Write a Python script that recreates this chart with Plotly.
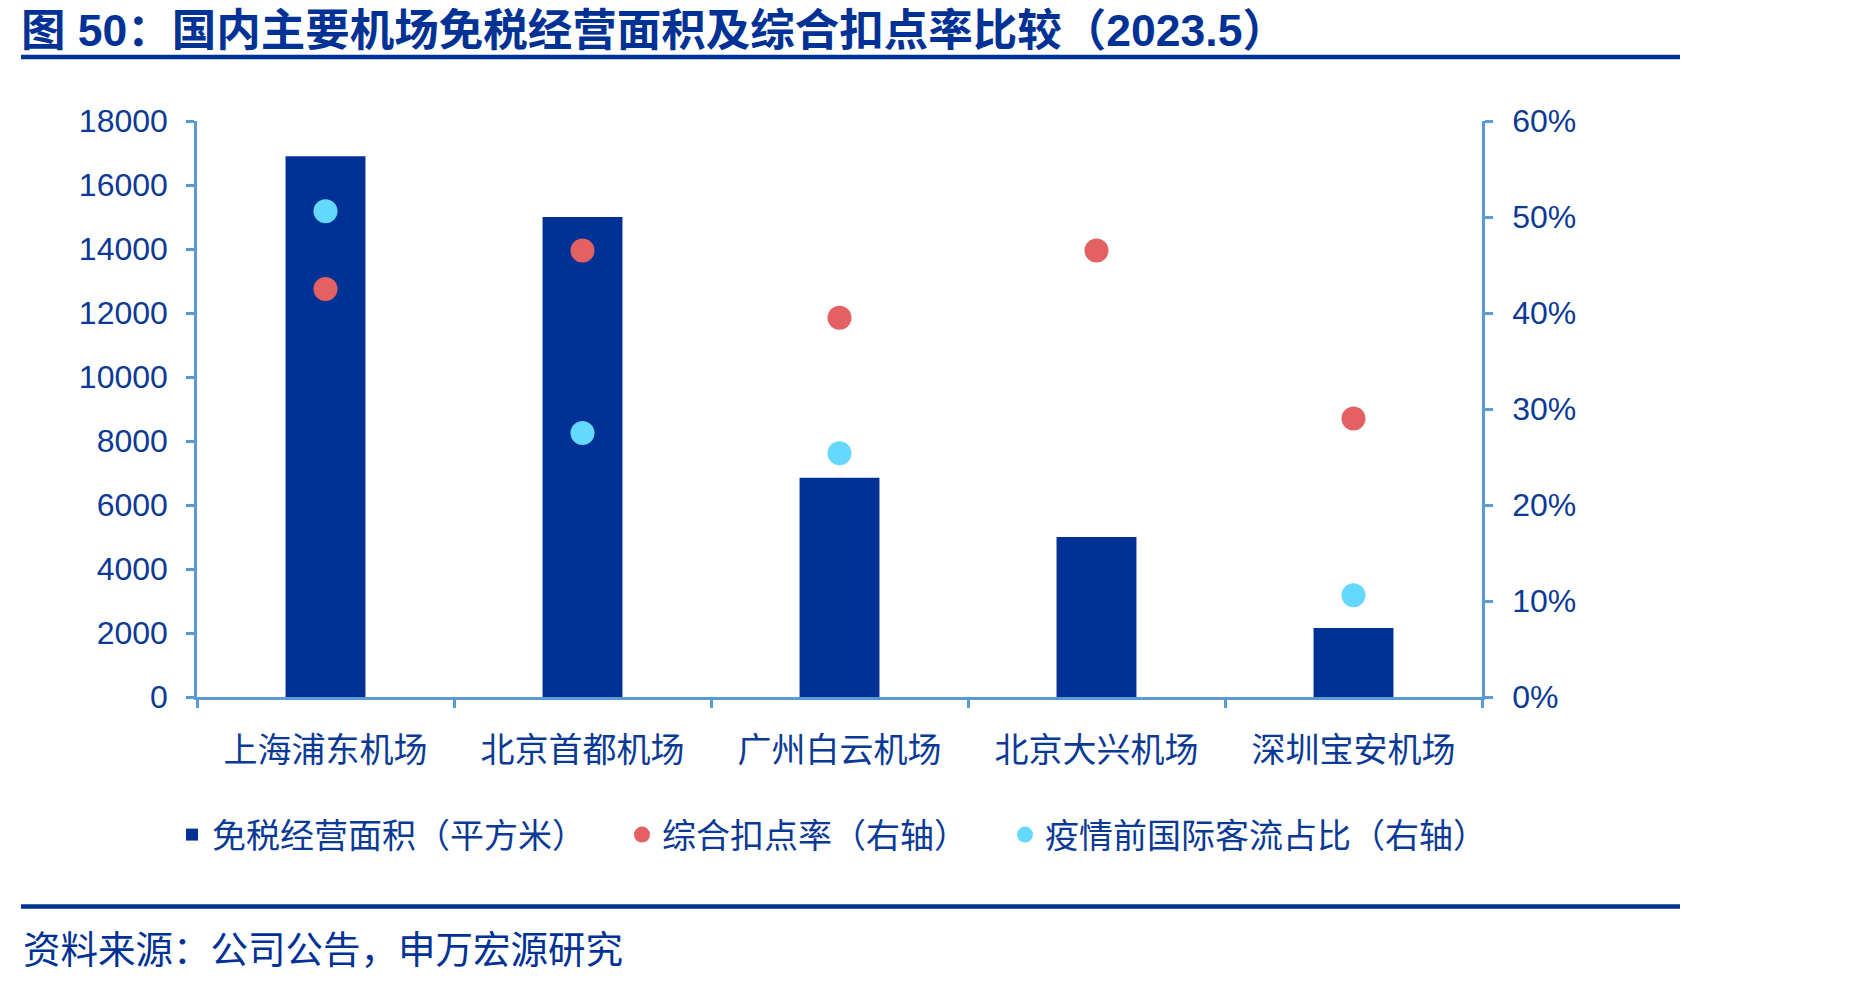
import plotly.graph_objects as go

# ---- data ----
categories = ["上海浦东机场", "北京首都机场", "广州白云机场", "北京大兴机场", "深圳宝安机场"]
area_sqm = [16900, 15000, 6850, 5000, 2160]
deduction_rate = [0.425, 0.465, 0.395, 0.465, 0.29]
intl_share_pre_covid = [0.506, 0.275, 0.254, None, 0.106]
y_left_ticks = [0, 2000, 4000, 6000, 8000, 10000, 12000, 14000, 16000, 18000]
y_right_ticks = [0, 0.1, 0.2, 0.3, 0.4, 0.5, 0.6]

name_area = "免税经营面积（平方米）"
name_rate = "综合扣点率（右轴）"
name_intl = "疫情前国际客流占比（右轴）"
title_text = "图 50：国内主要机场免税经营面积及综合扣点率比较（2023.5）"
source_text = "资料来源：公司公告，申万宏源研究"

# ---- styling ----
W, H = 1849, 982
L, R, T, B = 197, 1482, 121, 697
DARK = "#003296"
TEXT = "#0B3A96"
AXIS = "#5B9BD5"
RED = "#E46163"
CYAN = "#64D8FE"
FONT = "Liberation Sans, Arial, Noto Sans CJK SC, sans-serif"

def px_x(x):
    return (x - L) / (R - L)

def px_y(y):
    return (B - y) / (B - T)

fig = go.Figure()
fig.add_trace(go.Bar(x=categories, y=area_sqm, name=name_area,
                     marker=dict(color=DARK, line=dict(width=0)),
                     legend="legend"))
fig.add_trace(go.Scatter(x=categories, y=deduction_rate, name=name_rate, mode="markers",
                         marker=dict(color=RED, size=24), yaxis="y2", legend="legend2"))
fig.add_trace(go.Scatter(x=categories, y=intl_share_pre_covid, name=name_intl, mode="markers",
                         marker=dict(color=CYAN, size=24), yaxis="y2", legend="legend3"))

axis_common = dict(showline=True, linecolor=AXIS, linewidth=2.5, ticks="outside",
                   tickcolor=AXIS, tickwidth=2.5, ticklen=8, showgrid=False, zeroline=False,
                   tickfont=dict(family=FONT, size=32, color=TEXT))

legend_common = dict(orientation="h", xref="container", yref="container",
                     yanchor="middle", xanchor="left", bgcolor="rgba(0,0,0,0)",
                     font=dict(family=FONT, size=34, color=TEXT), itemwidth=30,
                     tracegroupgap=0)

fig.update_layout(
    width=W, height=H,
    margin=dict(l=L, r=W - R, t=T, b=H - B, pad=0),
    paper_bgcolor="white", plot_bgcolor="white",
    bargap=0.689,
    showlegend=True,
    title=dict(text=title_text, x=21 / W, xanchor="left", xref="container",
               y=1 - 30 / H, yanchor="middle", yref="container",
               font=dict(family=FONT, size=44.5, color=DARK, weight="bold")),
    xaxis=dict(axis_common, tickson="boundaries", ticklabelstandoff=21,
               tickfont=dict(family=FONT, size=34, color=TEXT)),
    yaxis=dict(axis_common, range=[0, 18000], tickvals=y_left_ticks, tickformat="d",
               ticklabelstandoff=12),
    yaxis2=dict(axis_common, range=[0, 0.6], tickvals=y_right_ticks, tickformat=".0%",
                overlaying="y", side="right", ticklabelstandoff=13),
    legend=dict(legend_common, x=172 / W, y=1 - 835 / H),
    legend2=dict(legend_common, x=622 / W, y=1 - 835 / H),
    legend3=dict(legend_common, x=1005 / W, y=1 - 835 / H),
    shapes=[
        dict(type="line", xref="paper", yref="paper", x0=px_x(21), x1=px_x(1680),
             y0=px_y(57), y1=px_y(57), line=dict(color=DARK, width=4.5)),
        dict(type="line", xref="paper", yref="paper", x0=px_x(21), x1=px_x(1680),
             y0=px_y(906.5), y1=px_y(906.5), line=dict(color=DARK, width=4.5)),
    ],
    annotations=[
        dict(text=source_text, xref="paper", yref="paper", x=px_x(21), y=px_y(950),
             xanchor="left", yanchor="middle", showarrow=False,
             font=dict(family=FONT, size=37.5, color=DARK)),
    ],
)

fig.write_html("out.html")
